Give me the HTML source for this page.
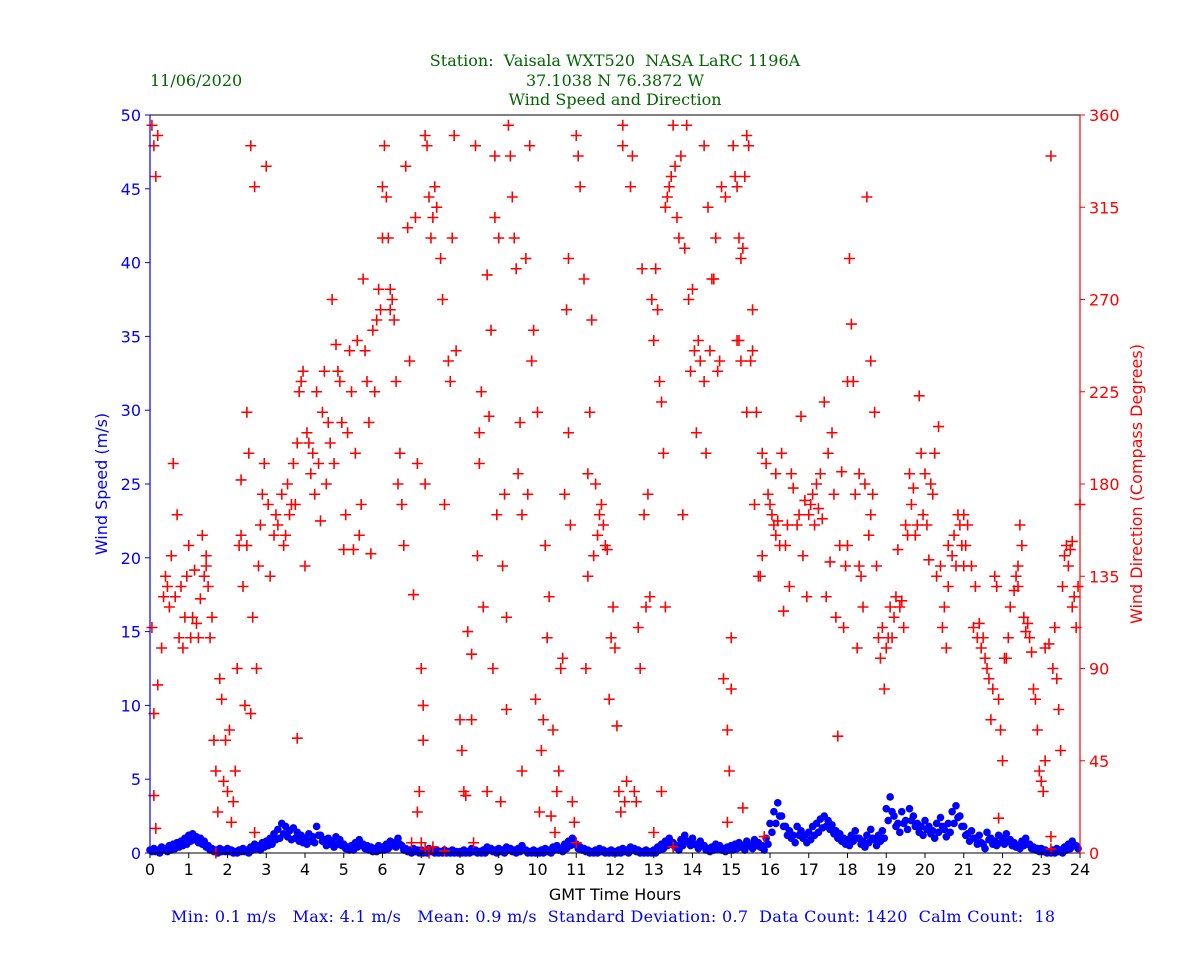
<!DOCTYPE html>
<html><head><meta charset="utf-8"><style>
html,body{margin:0;padding:0;background:#fff;}
svg{display:block;}
</style></head><body>
<svg id="chart" width="1200" height="960" xmlns="http://www.w3.org/2000/svg">
<g font-family="DejaVu Serif, Liberation Serif, serif" font-size="16" fill="#006400">
<text x="615" y="66" text-anchor="middle" xml:space="preserve">Station:  Vaisala WXT520  NASA LaRC 1196A</text>
<text x="615" y="86" text-anchor="middle">37.1038 N 76.3872 W</text>
<text x="615" y="105" text-anchor="middle">Wind Speed and Direction</text>
<text x="150" y="86">11/06/2020</text>
</g>
<g id="speedLayer"></g>
<g id="dirLayer"></g>
<g id="axes" font-family="DejaVu Sans, Liberation Sans, sans-serif" font-size="16"></g>
<text x="615" y="900" text-anchor="middle" font-family="DejaVu Sans, Liberation Sans, sans-serif" font-size="16" fill="#000">GMT Time Hours</text>
<text x="107" y="484" text-anchor="middle" transform="rotate(-90 107 484)" font-family="DejaVu Sans, Liberation Sans, sans-serif" font-size="16" fill="#0000ff">Wind Speed (m/s)</text>
<text x="1142" y="484" text-anchor="middle" transform="rotate(-90 1142 484)" font-family="DejaVu Sans, Liberation Sans, sans-serif" font-size="16" fill="#ff0000">Wind Direction (Compass Degrees)</text>
<text x="613" y="922" text-anchor="middle" font-family="DejaVu Serif, Liberation Serif, serif" font-size="16" fill="#0000ff" xml:space="preserve" textLength="884" lengthAdjust="spacing">Min: 0.1 m/s   Max: 4.1 m/s   Mean: 0.9 m/s  Standard Deviation: 0.7  Data Count: 1420  Calm Count:  18</text>
</svg>
<script>
const speedStart = 0, speedStep = 0.1;
const speedValues = [
0.2,0.3,0.2,0.4,0.3,0.5,0.6,0.7,0.8,1.0,
1.2,1.3,1.1,1.0,0.8,0.5,0.3,0.2,0.3,0.2,
0.3,0.2,0.1,0.2,0.3,0.2,0.4,0.6,0.5,0.7,
0.8,1.0,1.3,1.6,2.0,1.8,1.5,1.7,1.4,1.2,
1.0,1.3,1.1,1.8,1.2,0.9,1.0,0.8,1.1,0.9,
0.6,0.4,0.5,0.7,0.9,0.6,0.5,0.4,0.3,0.5,
0.4,0.6,0.8,0.7,1.0,0.5,0.3,0.2,0.3,0.2,
0.2,0.1,0.3,0.2,0.2,0.1,0.2,0.1,0.2,0.1,
0.1,0.2,0.1,0.3,0.2,0.1,0.2,0.4,0.3,0.2,
0.3,0.2,0.4,0.3,0.2,0.3,0.5,0.2,0.1,0.2,
0.1,0.2,0.3,0.2,0.4,0.5,0.3,0.6,0.8,1.0,
0.6,0.4,0.3,0.2,0.1,0.2,0.3,0.2,0.1,0.2,
0.1,0.2,0.3,0.2,0.4,0.3,0.2,0.1,0.2,0.1,
0.2,0.4,0.6,0.8,1.0,0.7,0.5,0.9,1.2,0.8,
1.0,0.6,0.8,0.5,0.3,0.4,0.6,0.5,0.3,0.4,
0.5,0.6,0.7,0.5,0.8,0.6,0.9,0.7,0.5,1.0,
2.0,2.8,3.4,2.5,1.8,1.5,1.2,1.8,1.5,1.2,
1.4,1.8,2.0,2.3,2.5,2.2,1.9,1.5,1.3,1.0,
0.9,1.2,1.5,1.0,0.8,1.2,1.6,0.9,1.2,1.5,
3.0,3.8,2.5,2.0,2.8,2.2,3.0,2.5,2.0,1.8,
2.2,1.8,1.5,2.0,2.4,1.6,2.0,2.8,3.2,2.5,
1.8,1.3,1.5,1.0,1.2,0.6,1.4,1.0,0.8,1.2,
1.0,1.3,0.9,0.7,0.5,0.8,1.0,0.6,0.4,0.3,
0.3,0.2,0.1,0.2,0.3,0.2,0.4,0.6,0.8,0.5];
const speedLow = [
0.1,0.1,0.0,0.2,0.1,0.2,0.3,0.4,0.5,0.6,
0.8,0.9,0.7,0.6,0.4,0.2,0.1,0.0,0.1,0.1,
0.1,0.0,0.0,0.1,0.1,0.0,0.2,0.3,0.2,0.4,
0.5,0.6,0.9,1.0,1.3,1.1,0.9,1.0,0.8,0.7,
0.6,0.8,0.7,1.2,0.8,0.5,0.6,0.4,0.6,0.5,
0.3,0.2,0.2,0.4,0.5,0.3,0.2,0.1,0.1,0.2,
0.2,0.3,0.5,0.4,0.6,0.2,0.1,0.0,0.1,0.0,
0.0,0.0,0.1,0.0,0.0,0.0,0.0,0.0,0.0,0.0,
0.0,0.0,0.0,0.1,0.0,0.0,0.0,0.2,0.1,0.0,
0.1,0.0,0.2,0.1,0.0,0.1,0.2,0.0,0.0,0.0,
0.0,0.0,0.1,0.0,0.2,0.2,0.1,0.3,0.5,0.6,
0.3,0.2,0.1,0.0,0.0,0.0,0.1,0.0,0.0,0.0,
0.0,0.0,0.1,0.0,0.2,0.1,0.0,0.0,0.0,0.0,
0.0,0.2,0.3,0.5,0.6,0.4,0.2,0.5,0.8,0.5,
0.6,0.3,0.5,0.2,0.1,0.2,0.3,0.2,0.1,0.2,
0.2,0.3,0.4,0.2,0.5,0.3,0.5,0.4,0.2,0.6,
1.4,2.0,2.5,1.8,1.2,1.0,0.7,1.2,1.0,0.7,
0.9,1.2,1.4,1.7,1.8,1.6,1.3,1.0,0.8,0.6,
0.5,0.8,1.0,0.6,0.4,0.7,1.0,0.5,0.8,1.0,
2.2,2.8,1.8,1.4,2.0,1.6,2.2,1.8,1.4,1.2,
1.6,1.3,1.0,1.4,1.8,1.1,1.4,2.0,2.4,1.8,
1.2,0.8,1.0,0.6,0.7,0.3,0.9,0.6,0.5,0.7,
0.6,0.8,0.5,0.4,0.3,0.5,0.6,0.3,0.2,0.1,
0.1,0.0,0.0,0.0,0.1,0.0,0.2,0.3,0.5,0.3];
const dirHours = [0.05,0.1,0.15,0.2,0.05,0.1,0.15,0.2,0.3,0.35,0.4,0.5,0.55,0.6,0.7,0.75,0.8,0.85,0.9,0.95,0.1,0.45,0.65,
1.0,1.05,1.1,1.15,1.2,1.3,1.35,1.4,1.45,1.5,1.55,1.6,1.65,1.7,1.75,1.8,1.85,1.9,1.95,1.25,1.45,1.7,
2.0,2.05,2.1,2.15,2.2,2.25,2.3,2.35,2.4,2.45,2.5,2.55,2.6,2.65,2.7,2.75,2.8,2.9,2.95,2.6,2.7,2.85,2.5,2.35,
3.0,3.05,3.1,3.2,3.3,3.4,3.5,3.55,3.6,3.7,3.75,3.8,3.85,3.9,3.95,3.65,3.25,3.45,3.8,
4.0,4.05,4.1,4.15,4.2,4.3,4.35,4.4,4.45,4.5,4.6,4.65,4.7,4.75,4.8,4.85,4.9,4.95,4.25,4.55,
5.0,5.05,5.1,5.15,5.2,5.25,5.3,5.35,5.4,5.45,5.5,5.55,5.6,5.65,5.7,5.75,5.8,5.85,5.9,5.95,6.0,
6.0,6.05,6.1,6.15,6.2,6.25,6.3,6.35,6.4,6.45,6.5,6.55,6.6,6.65,6.7,6.8,6.85,6.9,7.0,7.05,6.9,7.0,6.75,7.1,6.95,6.2,
7.1,7.15,7.2,7.25,7.3,7.35,7.4,7.5,7.55,7.6,7.7,7.75,7.8,7.85,7.9,7.2,7.1,7.3,7.6,7.05,
8.0,8.05,8.1,8.15,8.2,8.3,8.4,8.45,8.5,8.55,8.6,8.7,8.75,8.8,8.85,8.9,8.95,8.3,8.5,8.7,8.35,8.9,
9.0,9.05,9.1,9.15,9.2,9.25,9.3,9.35,9.4,9.45,9.5,9.55,9.6,9.7,9.75,9.8,9.85,9.9,9.95,10.0,9.2,9.6,
10.05,10.1,10.15,10.2,10.25,10.3,10.35,10.4,10.45,10.5,10.6,10.65,10.7,10.75,10.8,10.85,10.9,10.95,11.0,11.05,11.1,11.0,10.55,10.8,
11.2,11.25,11.3,11.35,11.4,11.45,11.5,11.55,11.6,11.7,11.75,11.8,11.85,11.9,11.95,12.0,12.05,12.1,12.15,12.2,11.3,11.65,
12.2,12.25,12.3,12.4,12.45,12.5,12.6,12.65,12.7,12.75,12.8,12.9,12.95,13.0,13.05,13.1,13.15,13.2,13.25,13.3,12.55,12.85,13.0,
13.3,13.35,13.4,13.45,13.5,13.55,13.6,13.65,13.7,13.75,13.8,13.85,13.9,13.95,14.0,14.05,14.1,14.15,14.2,14.3,13.2,13.5,
14.3,14.35,14.4,14.5,14.55,14.6,14.7,14.75,14.8,14.85,14.9,14.95,15.0,15.05,15.1,15.15,15.2,14.45,14.9,15.0,15.15,15.25,14.65,
15.25,15.3,15.35,15.4,15.45,15.5,15.55,15.6,15.65,15.7,15.75,15.8,15.9,15.95,15.4,15.3,15.55,15.8,15.2,15.85,
16.0,16.05,16.1,16.15,16.2,16.25,16.3,16.4,16.45,16.5,16.55,16.6,16.7,16.75,16.8,16.85,16.9,16.95,16.35,16.15,
17.0,17.05,17.1,17.15,17.2,17.3,17.35,17.4,17.45,17.5,17.55,17.6,17.65,17.7,17.75,17.8,17.85,17.9,17.95,18.0,17.25,
18.0,18.05,18.1,18.15,18.2,18.25,18.3,18.35,18.4,18.45,18.5,18.55,18.6,18.65,18.7,18.75,18.8,18.85,18.9,18.95,18.3,18.6,
19.0,19.05,19.1,19.15,19.25,19.3,19.35,19.45,19.5,19.6,19.65,19.7,19.75,19.8,19.85,19.9,19.95,19.4,19.55,19.2,
20.0,20.05,20.1,20.15,20.2,20.25,20.3,20.35,20.4,20.45,20.5,20.55,20.6,20.7,20.75,20.8,20.85,20.9,20.95,21.0,20.6,
21.0,21.05,21.1,21.2,21.25,21.3,21.35,21.4,21.45,21.5,21.55,21.6,21.65,21.7,21.75,21.8,21.85,21.9,21.95,22.0,21.9,22.05,
22.1,22.15,22.2,22.3,22.35,22.4,22.45,22.5,22.55,22.6,22.65,22.7,22.8,22.85,22.9,22.95,23.0,23.05,23.1,22.4,22.75,
23.1,23.2,23.25,23.3,23.35,23.4,23.45,23.5,23.55,23.6,23.65,23.7,23.75,23.8,23.85,23.9,23.95,24.0,23.25,23.25,23.8];
const dirDegrees = [355,345,330,350,110,28,12,82,100,125,135,120,145,190,165,105,130,100,115,135,68,130,125,
150,105,115,138,112,124,155,135,140,130,105,115,55,40,20,85,75,35,55,105,145,0,
30,60,15,25,40,90,150,155,130,72,215,195,345,115,325,90,140,175,190,68,10,160,150,182,
335,170,135,155,160,175,155,180,165,190,170,56,225,230,235,170,165,150,200,
140,205,200,185,195,225,190,162,215,235,210,200,270,190,248,235,230,210,175,180,
148,165,205,245,225,148,195,250,155,170,280,245,230,210,146,255,225,260,275,265,300,
325,345,320,300,275,270,260,230,180,195,170,150,335,305,240,126,310,190,90,55,20,5,5,180,30,265,
350,345,320,300,310,325,315,290,270,170,240,230,300,350,245,0,2,3,1,72,
65,50,30,28,108,97,345,145,205,225,120,282,213,255,90,310,165,65,190,30,5,340,
300,25,140,175,70,355,340,320,300,285,185,210,165,290,175,345,240,255,75,215,115,40,
20,50,65,150,105,125,18,60,10,30,90,95,175,265,290,160,25,15,350,340,325,5,40,205,
280,90,185,215,260,145,180,155,165,160,150,148,75,105,120,100,62,30,20,345,135,170,
355,25,35,325,340,30,110,90,285,165,120,125,270,250,285,265,230,220,195,120,25,175,10,
315,320,325,330,355,335,310,300,340,165,295,355,270,235,275,245,205,250,240,230,30,3,
345,195,315,280,280,300,240,325,85,320,60,40,80,345,330,325,300,245,15,105,250,240,235,
290,295,330,350,345,240,245,170,215,135,135,195,190,175,215,22,265,145,250,8,
170,165,160,155,162,150,195,150,160,130,185,178,160,165,213,145,172,125,118,185,
165,170,175,160,180,185,163,220,125,195,142,205,175,115,57,150,186,110,140,230,168,
150,290,258,230,175,100,140,135,120,180,320,155,240,175,215,140,105,95,110,80,185,165,
100,105,120,105,125,148,120,110,160,185,170,178,155,160,223,195,165,123,155,115,
185,160,143,180,175,195,135,208,140,110,120,100,130,145,155,140,165,160,150,140,150,
165,150,160,140,110,130,105,112,100,105,95,90,85,65,80,135,130,75,60,45,17,95,
95,105,120,128,135,140,160,150,115,108,112,105,80,75,60,40,35,30,45,130,98,
100,102,340,90,110,85,70,50,130,145,150,140,148,152,125,110,130,170,8,2,120];
const xTicks = [0,1,2,3,4,5,6,7,8,9,10,11,12,13,14,15,16,17,18,19,20,21,22,23,24];
const leftTicks = [0,5,10,15,20,25,30,35,40,45,50];
const rightTicks = [0,45,90,135,180,225,270,315,360];

const L=150,R=1080,T=115,B=853;
const xs = h => L + (h/24)*(R-L);
const ysp = v => B - (v/50)*(B-T);
const ydir = d => B - (d/360)*(B-T);
const NS='http://www.w3.org/2000/svg';
function mk(tag, attrs, parent){const e=document.createElementNS(NS,tag);for(const k in attrs)e.setAttribute(k,attrs[k]);parent.appendChild(e);return e;}

const sp = document.getElementById('speedLayer');
speedValues.forEach((v,i)=>{
  const c = mk('circle',{cx:xs(speedStart+i*speedStep),cy:ysp(v),r:3.8,fill:'#0000ff'},sp);
  
  
});
speedLow.forEach((v,i)=>{
  const c = mk('circle',{cx:xs(speedStart+(i+0.5)*speedStep),cy:ysp(v),r:3.8,fill:'#0000ff'},sp);
  
  
});
const dl = document.getElementById('dirLayer');
dirHours.forEach((h,i)=>{
  const x=xs(h), y=ydir(dirDegrees[i]);
  const p = mk('path',{d:`M${x-5.5},${y}H${x+5.5}M${x},${y-5.5}V${y+5.5}`,stroke:'#ff0000','stroke-width':1.6,fill:'none'},dl);
  
  
});

const ax = document.getElementById('axes');
mk('line',{x1:L,y1:T,x2:R,y2:T,stroke:'#000','stroke-width':1},ax);
mk('line',{x1:L,y1:B,x2:R,y2:B,stroke:'#000','stroke-width':1},ax);
mk('line',{x1:L,y1:T,x2:L,y2:B,stroke:'#0000ff','stroke-width':1.2},ax);
mk('line',{x1:R,y1:T,x2:R,y2:B,stroke:'#ff0000','stroke-width':1.2},ax);
xTicks.forEach(t=>{
  const x=xs(t);
  mk('line',{x1:x,y1:B,x2:x,y2:B+5,stroke:'#000'},ax);
  const tx=mk('text',{x:x,y:B+22,'text-anchor':'middle',fill:'#000'},ax);
  tx.textContent=t;
  
  
});
leftTicks.forEach(t=>{
  const y=ysp(t);
  mk('line',{x1:L-5,y1:y,x2:L,y2:y,stroke:'#0000ff'},ax);
  const tx=mk('text',{x:L-9,y:y+6,'text-anchor':'end',fill:'#0000ff'},ax);
  tx.textContent=t;
  
  
});
rightTicks.forEach(t=>{
  const y=ydir(t);
  mk('line',{x1:R,y1:y,x2:R+5,y2:y,stroke:'#ff0000'},ax);
  const tx=mk('text',{x:R+9,y:y+6,'text-anchor':'start',fill:'#ff0000'},ax);
  tx.textContent=t;
  
  
});
</script>
</body></html>
